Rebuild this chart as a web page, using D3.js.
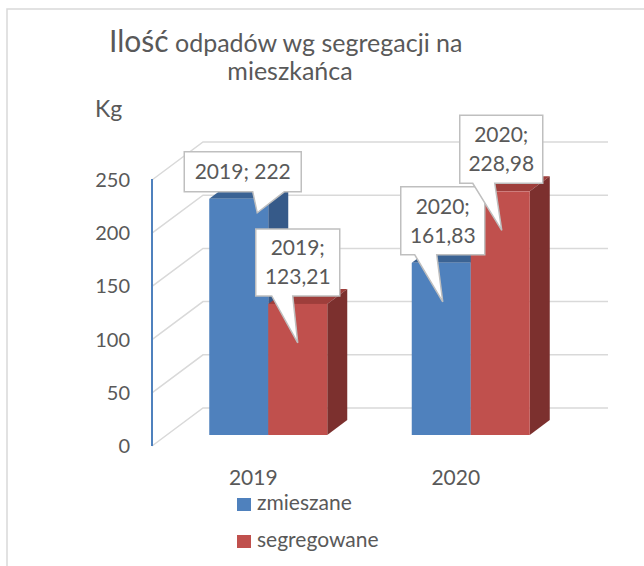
<!DOCTYPE html>
<html><head><meta charset="utf-8">
<script src="https://cdn.jsdelivr.net/npm/d3@7"></script>
<style>body{margin:0;background:#fff}</style>
</head><body><svg id="c" width="644" height="566"></svg>
<script>
const categories = ["2019", "2020"];
const seriesNames = ["zmieszane", "segregowane"];
const zmieszane = [222, 161.83];
const segregowane = [123.21, 228.98];
const yTicks = [0, 50, 100, 150, 200, 250];
const titleFirstWord = "Ilość";
const titleRest = " odpadów wg segregacji na";
const titleLine2 = "mieszkańca";
const yUnit = "Kg";

const seriesValues = [zmieszane, segregowane];
const colors = [
  {front: "#4f81bd", top: "#3b6394", side: "#365a89"},
  {front: "#c0504d", top: "#9e3e3b", side: "#7c302e"}
];
const font = "Lato, 'Open Sans', sans-serif";
const textColor = "#595959";
const gridColor = "#d9d9d9";

const svg = d3.select("#c");

// outer frame
svg.append("path").attr("d", "M7,566V9H644").attr("fill", "none")
  .attr("stroke", gridColor).attr("stroke-width", 1.5);

// scales (front plane)
const x = d3.scaleBand().domain(categories).range([152, 557]);
const y = d3.scaleLinear().domain([0, 250]).range([446, 180]);
const wall = {dx: 51, dy: -38};
const barOff = {dx: 15, dy: -11};
const barD = {dx: 20, dy: -15};
const barW = 59;
const rightEnd = 608;

// gridlines: side wall diagonal + back wall horizontal
svg.append("g").selectAll("path").data(yTicks).join("path")
  .attr("d", t => `M${x.range()[0]},${y(t)}L${x.range()[0] + wall.dx},${y(t) + wall.dy}H${rightEnd}`)
  .attr("fill", "none").attr("stroke", gridColor).attr("stroke-width", 1.5);

// axis line
svg.append("line").attr("x1", 152).attr("x2", 152)
  .attr("y1", y(250) - 1).attr("y2", y(0))
  .attr("stroke", "#4f81bd").attr("stroke-width", 2);

// y tick labels
svg.append("g").selectAll("text").data(yTicks).join("text")
  .attr("x", 130).attr("y", y => y).attr("y", t => y(t) + 7)
  .attr("text-anchor", "end").attr("font-family", font).attr("font-size", 20)
  .attr("fill", textColor).text(t => t);

// bars
const bars = [];
categories.forEach((c, ci) => {
  const center = x(c) + x.bandwidth() / 2 + barOff.dx;
  seriesValues.forEach((vals, si) => {
    const x0 = center + (si - 1) * barW, x1 = x0 + barW;
    const yt = y(vals[ci]) + barOff.dy, yb = y(0) + barOff.dy;
    bars.push({ci, si, x0, x1, yt, yb, v: vals[ci], cat: c});
  });
});
const bg = svg.append("g");
bars.forEach(b => {
  const col = colors[b.si];
  bg.append("path")
    .attr("d", `M${b.x0},${b.yt}L${b.x1},${b.yt}L${b.x1 + barD.dx},${b.yt + barD.dy}L${b.x0 + barD.dx},${b.yt + barD.dy}Z`)
    .attr("fill", col.top);
  bg.append("path")
    .attr("d", `M${b.x1},${b.yt}L${b.x1 + barD.dx},${b.yt + barD.dy}L${b.x1 + barD.dx},${b.yb + barD.dy}L${b.x1},${b.yb}Z`)
    .attr("fill", col.side);
  bg.append("rect").attr("x", b.x0).attr("y", b.yt).attr("width", barW)
    .attr("height", b.yb - b.yt).attr("fill", col.front);
});

// category labels
svg.append("g").selectAll("text").data(categories).join("text")
  .attr("x", c => x(c) + x.bandwidth() / 2).attr("y", 485)
  .attr("text-anchor", "middle").attr("font-family", font).attr("font-size", 21)
  .attr("fill", textColor).text(c => c);

// callouts (layout only)
const calloutLayout = [
  {oneLine: true, w: 117, h: 40, boxDx: 4, gap: 7, tipDx: 18.5, tipDy: 14, baseL: 10, baseR: 41.5},
  {oneLine: false, w: 84, h: 67, boxDx: 0, gap: 8, tipDx: 0, tipDy: 39, baseL: -26, baseR: -5},
  {oneLine: false, w: 84, h: 68, boxDx: 1.5, gap: 8, tipDx: 1.5, tipDy: 39, baseL: -28, baseR: -6},
  {oneLine: false, w: 83, h: 68, boxDx: 1, gap: 8, tipDx: 1.5, tipDy: 39, baseL: -28.5, baseR: -6.5}
];
const fmt = v => String(v).replace(".", ",");
const order = [[0, 0], [1, 0], [0, 1], [1, 1]]; // [series, category]
const cg = svg.append("g");
order.forEach(([si, ci], k) => {
  const b = bars.find(d => d.si === si && d.ci === ci);
  const L = calloutLayout[k];
  const bc = (b.x0 + b.x1) / 2;
  const cx = bc + L.boxDx;
  const bottom = b.yt - L.gap, top = bottom - L.h;
  const left = cx - L.w / 2, right = cx + L.w / 2;
  const tx = bc + L.tipDx, ty = b.yt + L.tipDy;
  const d = `M${left},${top}H${right}V${bottom}H${cx + L.baseR}L${tx},${ty}L${cx + L.baseL},${bottom}H${left}Z`;
  cg.append("path").attr("d", d).attr("fill", "#fff").attr("stroke", "#bfbfbf").attr("stroke-width", 1.5);
  const lines = L.oneLine ? [`${b.cat}; ${fmt(b.v)}`] : [`${b.cat};`, fmt(b.v)];
  const mid = (top + bottom) / 2;
  lines.forEach((s, li) => {
    const off = lines.length === 1 ? 0 : (li === 0 ? -14.5 : 14.5);
    cg.append("text").attr("x", cx).attr("y", mid + off + 7.5)
      .attr("text-anchor", "middle").attr("font-family", font).attr("font-size", 21)
      .attr("fill", textColor).text(s);
  });
});

// legend
const lg = svg.append("g");
seriesNames.forEach((n, i) => {
  const yy = [498, 535][i];
  lg.append("rect").attr("x", 237).attr("y", yy).attr("width", 14).attr("height", 13)
    .attr("fill", colors[i].front);
  lg.append("text").attr("x", 257).attr("y", yy + 12).attr("font-family", font)
    .attr("font-size", 21).attr("fill", textColor).text(n);
});

// title
const t1 = svg.append("text").attr("x", 109).attr("y", 52).attr("font-family", font).attr("fill", textColor);
t1.append("tspan").attr("font-size", 30).text(titleFirstWord);
t1.append("tspan").attr("font-size", 25).text(titleRest);
svg.append("text").attr("x", 290).attr("y", 80).attr("text-anchor", "middle")
  .attr("font-family", font).attr("font-size", 25).attr("fill", textColor).text(titleLine2);
svg.append("text").attr("x", 95).attr("y", 117).attr("font-family", font)
  .attr("font-size", 23).attr("fill", textColor).text(yUnit);
</script></body></html>
